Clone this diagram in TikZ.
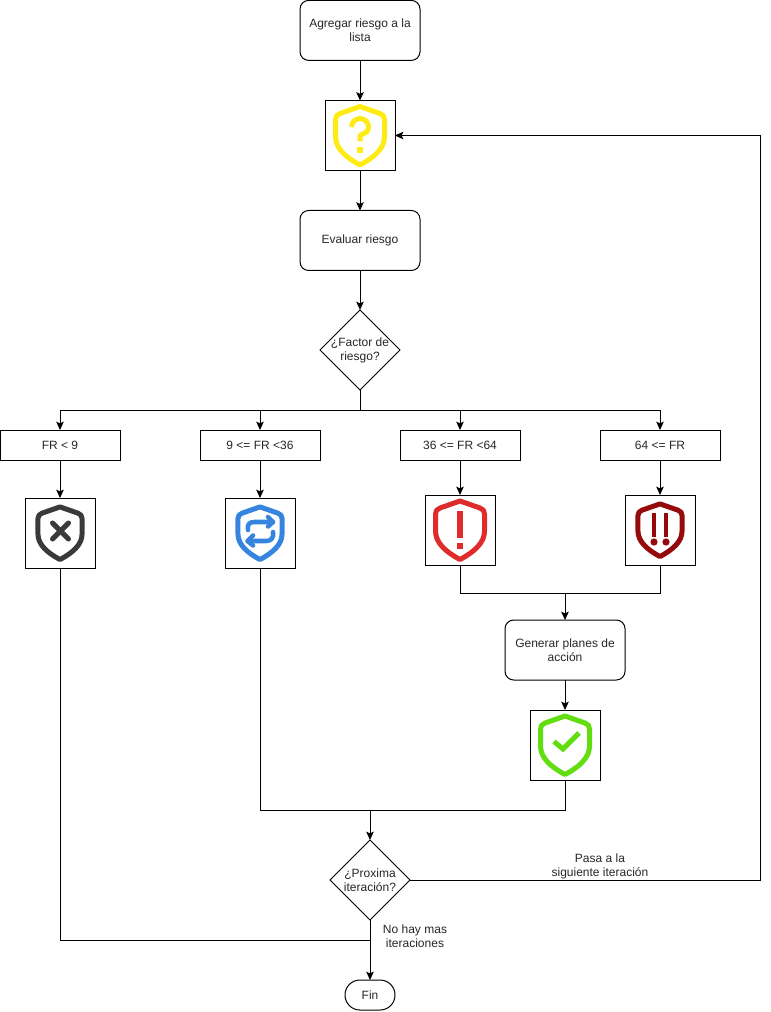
\documentclass[tikz,border=0pt]{standalone}
\usepackage{fontspec}
\setmainfont{Liberation Sans}
\usetikzlibrary{shapes.geometric,arrows.meta}
\definecolor{cyellow}{HTML}{FFEB14}
\definecolor{cgray}{HTML}{3A3A3A}
\definecolor{cblue}{HTML}{3584E0}
\definecolor{cred}{HTML}{E02B2B}
\definecolor{cdark}{HTML}{950A0A}
\definecolor{cgreen}{HTML}{62DE10}
\tikzset{
  x=0.75pt,y=-0.75pt,
  every node/.style={font=\fontsize{9}{10.5}\selectfont,align=center,inner sep=0pt,outer sep=0pt,text=black!85},
  roundbox/.style={draw=black,line width=0.75pt,rounded corners=6.5pt,minimum width=90pt,minimum height=45pt},
  plainbox/.style={draw=black,line width=0.75pt,minimum width=90pt,minimum height=22.5pt},
  iconbox/.style={draw=black,line width=0.75pt,minimum width=52.5pt,minimum height=52.5pt},
  decision/.style={draw=black,line width=0.75pt,shape=diamond,shape aspect=1,inner sep=-4pt,minimum width=60pt,minimum height=60pt},
  terminal/.style={draw=black,line width=0.75pt,rounded corners=11.2pt,minimum width=37.5pt,minimum height=22.5pt},
  line/.style={draw=black,line width=0.75pt},
  arrow/.style={line,-{Stealth[length=6.2pt,width=5.6pt,inset=1.2pt]}},
  glyph/.style={line width=3.75pt,line cap=round,line join=round},
}
\newcommand{\shieldline}[1]{%
  \draw[#1,line width=3.75pt,line join=round]
    (0,-29) -- (20,-22) .. controls (23,-21) and (24.5,-19) .. (24.5,-16)
    -- (24.5,1) .. controls (24.5,13) and (14,22) .. (0,29.5)
    .. controls (-14,22) and (-24.5,13) .. (-24.5,1) -- (-24.5,-16)
    .. controls (-24.5,-19) and (-23,-21) .. (-20,-22) -- cycle;}
\begin{document}
\begin{tikzpicture}
\useasboundingbox (0,0) rectangle (770,1012);
% process nodes
\node[roundbox] (add) at (360,30.4) {Agregar riesgo a la\\lista};
\node[iconbox] (qicon) at (360,135.5) {};
\node[roundbox] (eval) at (360,240.5) {Evaluar riesgo};
\node[decision] (factor) at (360,350) {¿Factor de\\riesgo?};
\node[plainbox] (fra) at (60,445) {FR < 9};
\node[plainbox] (frb) at (260,445) {9 <= FR <36};
\node[plainbox] (frc) at (460,445) {36 <= FR <64};
\node[plainbox] (frd) at (660,445) {64 <= FR};
\node[iconbox] (xicon) at (60,533) {};
\node[iconbox] (ricon) at (260,533) {};
\node[iconbox] (eicon) at (460,530) {};
\node[iconbox] (eeicon) at (660,530) {};
\node[roundbox] (plans) at (565,650) {Generar planes de\\acción};
\node[iconbox] (okicon) at (565,745) {};
\node[decision] (next) at (370,880) {¿Proxima\\iteración?};
\node[terminal] (fin) at (370,995) {Fin};
\node (passlabel) at (600,866) {Pasa a la\\siguiente iteración};
\node (endlabel) at (415,936) {No hay mas\\iteraciones};
% junctions
\coordinate (split) at (360,410);
\coordinate (merge) at (565,593);
\coordinate (join) at (370,810);
\coordinate (tap) at (370,940);
\coordinate (backa) at (760,880);
\coordinate (backb) at (760,135.5);
% connectors
\draw[arrow] (add) -- (qicon);
\draw[arrow] (qicon) -- (eval);
\draw[arrow] (eval) -- (factor);
\draw[line] (factor) -- (split);
\draw[arrow] (split) -| (fra.north);
\draw[arrow] (split) -| (frb.north);
\draw[arrow] (split) -| (frc.north);
\draw[arrow] (split) -| (frd.north);
\draw[arrow] (fra) -- (xicon);
\draw[arrow] (frb) -- (ricon);
\draw[arrow] (frc) -- (eicon);
\draw[arrow] (frd) -- (eeicon);
\draw[line] (eicon.south) |- (merge);
\draw[line] (eeicon.south) |- (merge);
\draw[arrow] (merge) -- (plans.north);
\draw[arrow] (plans) -- (okicon);
\draw[line] (okicon.south) |- (join);
\draw[line] (ricon.south) |- (join);
\draw[arrow] (join) -- (next.north);
\draw[line] (next.east) -- (backa) -- (backb);
\draw[arrow] (backb) -- (qicon.east);
\draw[arrow] (next.south) -- (fin.north);
\draw[line] (xicon.south) |- (tap);
% yellow icon
\begin{scope}[shift={(qicon.center)}]
  \shieldline{cyellow}
  \draw[cyellow,line width=3.75pt,line join=round]
    (-8.5,-8.5) arc[start angle=180,end angle=395,radius=8.5] -- (0,0) -- (0,6);
  \fill[cyellow] (-3,12) rectangle (3,18);
\end{scope}
% gray icon
\begin{scope}[shift={(xicon.center)}]
  \begin{scope}[scale=0.9]\shieldline{cgray}\end{scope}
  \draw[cgray,glyph] (-7.5,-10) -- (8.5,6);
  \draw[cgray,glyph] (8.5,-10) -- (-7.5,6);
\end{scope}
% blue icon
\begin{scope}[shift={(ricon.center)}]
  \begin{scope}[scale=0.9]\shieldline{cblue}\end{scope}
  \draw[cblue,glyph,line width=3.4pt] (-12,-3) .. controls (-13,-8) and (-11,-11) .. (-6,-11) -- (13,-11);
  \draw[cblue,glyph,line width=3.4pt] (8,-16) -- (13,-11) -- (8,-6.5);
  \draw[cblue,glyph,line width=3.4pt] (13,-1) .. controls (14,5) and (11,8) .. (6,8) -- (-12,8);
  \draw[cblue,glyph,line width=3.4pt] (-7,2.5) -- (-12.5,8) -- (-7,12.5);
\end{scope}
% red icon
\begin{scope}[shift={(eicon.center)}]
  \shieldline{cred}
  \fill[cred] (-2.8,-19) rectangle (2.8,7.5);
  \fill[cred] (-3,13) rectangle (3,18.5);
\end{scope}
% dark red icon
\begin{scope}[shift={(eeicon.center)}]
  \begin{scope}[scale=0.9]\shieldline{cdark}\end{scope}
  \fill[cdark] (-8.2,-17) rectangle (-3.8,6.5);
  \fill[cdark] (3.8,-17) rectangle (8.2,6.5);
  \fill[cdark] (-6,12) circle[radius=2.7pt];
  \fill[cdark] (6,12) circle[radius=2.7pt];
\end{scope}
% green icon
\begin{scope}[shift={(okicon.center)}]
  \shieldline{cgreen}
  \draw[cgreen,line width=3.75pt,miter limit=10] (-11,-3.5) -- (-2,4) -- (14,-12);
\end{scope}
\end{tikzpicture}
\end{document}
